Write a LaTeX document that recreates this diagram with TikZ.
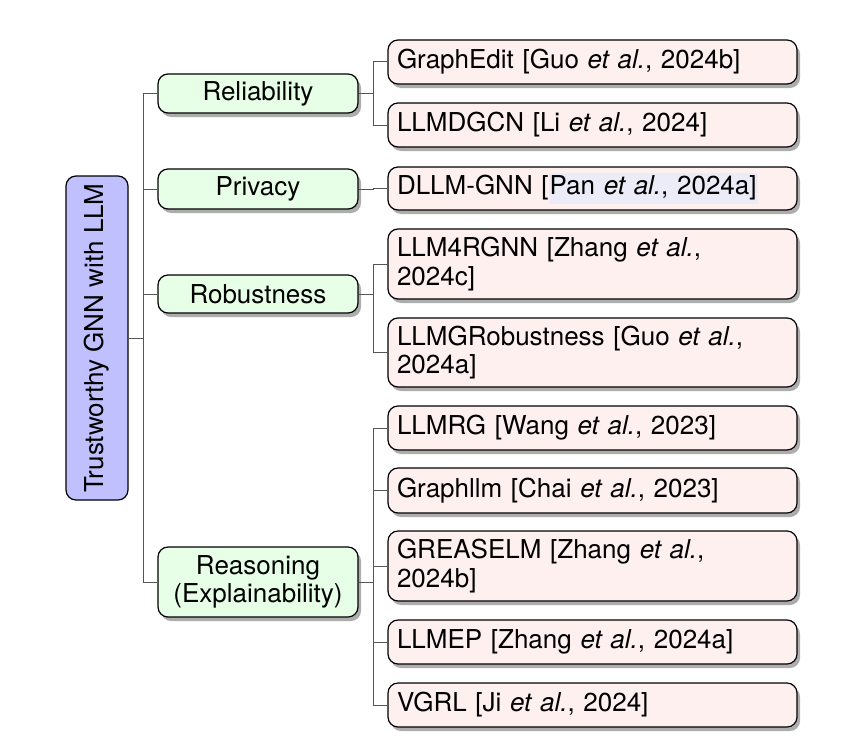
\documentclass[tikz,border=0pt]{standalone}
\usepackage{fontspec}
\setmainfont{TeX Gyre Heros}
\usetikzlibrary{shadows}
\definecolor{rootfill}{RGB}{192,192,255}
\definecolor{catfill}{RGB}{230,255,230}
\definecolor{leaffill}{RGB}{255,240,240}
\definecolor{edgegray}{RGB}{85,85,85}
\definecolor{hlblue}{RGB}{236,236,248}
\tikzset{
  box/.style = {draw=black, line width=0.6pt, rounded corners=5pt,
    font=\fontsize{13}{14.2}\selectfont},
  shade box/.style = {box,
    drop shadow={shadow xshift=1.5pt, shadow yshift=-2pt, fill=black!32, opacity=1}},
  rootbox/.style = {box, fill=rootfill, rotate=90,
    minimum width=162pt, minimum height=31pt, inner sep=0pt},
  catbox/.style = {shade box, fill=catfill, align=center,
    minimum width=100pt, inner sep=0pt},
  leafbox/.style = {shade box, fill=leaffill, align=left,
    text width=195.5pt, inner xsep=4.5pt, inner ysep=0pt},
  link/.style = {draw=edgegray, line width=0.5pt}
}
\newcommand{\etal}{\textit{et al.}}
\newcommand{\hl}[1]{{\setlength{\fboxsep}{0.5pt}\colorbox{hlblue}{\strut #1}}}

\begin{document}
\begin{tikzpicture}[x=0.5pt,y=-0.5pt]
  \useasboundingbox (0,0) rectangle (854,749);

  \node[rootbox] (root) at (97,338) {Trustworthy GNN with LLM};

  \node[catbox, minimum height=19.5pt] (rel) at (258,93.5) {Reliability};
  \node[catbox, minimum height=20pt] (pri) at (258,189) {Privacy};
  \node[catbox, minimum height=19pt] (rob) at (258,294) {Robustness};
  \node[catbox, minimum height=35pt] (rea) at (258,582) {Reasoning\\(Explainability)};

  \node[leafbox, minimum height=22pt] (gedit) at (592.5,62) {GraphEdit [Guo \etal, 2024b]};
  \node[leafbox, minimum height=22pt] (dgcn) at (592.5,125) {LLMDGCN [Li \etal, 2024]};
  \node[leafbox, minimum height=21.5pt] (dllm) at (592.5,188.5) {DLLM-GNN [\hl{Pan \etal, 2024a]}};
  \node[leafbox, minimum height=35pt] (rgnn) at (592.5,264) {LLM4RGNN [Zhang \etal,\\2024c]};
  \node[leafbox, minimum height=34.5pt] (grob) at (592.5,352.5) {LLMGRobustness [Guo \etal,\\2024a]};
  \node[leafbox, minimum height=22pt] (llmrg) at (592.5,428) {LLMRG [Wang \etal, 2023]};
  \node[leafbox, minimum height=22.5pt] (gllm) at (592.5,490.5) {Graphllm [Chai \etal, 2023]};
  \node[leafbox, minimum height=35pt] (grea) at (592.5,566) {GREASELM [Zhang \etal,\\2024b]};
  \node[leafbox, minimum height=22pt] (llmep) at (592.5,642) {LLMEP [Zhang \etal, 2024a]};
  \node[leafbox, minimum height=22pt] (vgrl) at (592.5,705) {VGRL [Ji \etal, 2024]};

  % tree edges (root is turned, so its right side is .south)
  \foreach \c in {rel, pri, rob, rea}
    \draw[link] (root.south) -- ++(15,0) |- (\c.west);
  \foreach \p/\c in {rel/gedit, rel/dgcn, pri/dllm, rob/rgnn, rob/grob,
      rea/llmrg, rea/gllm, rea/grea, rea/llmep, rea/vgrl}
    \draw[link] (\p.east) -- ++(15,0) |- (\c.west);
\end{tikzpicture}
\end{document}
